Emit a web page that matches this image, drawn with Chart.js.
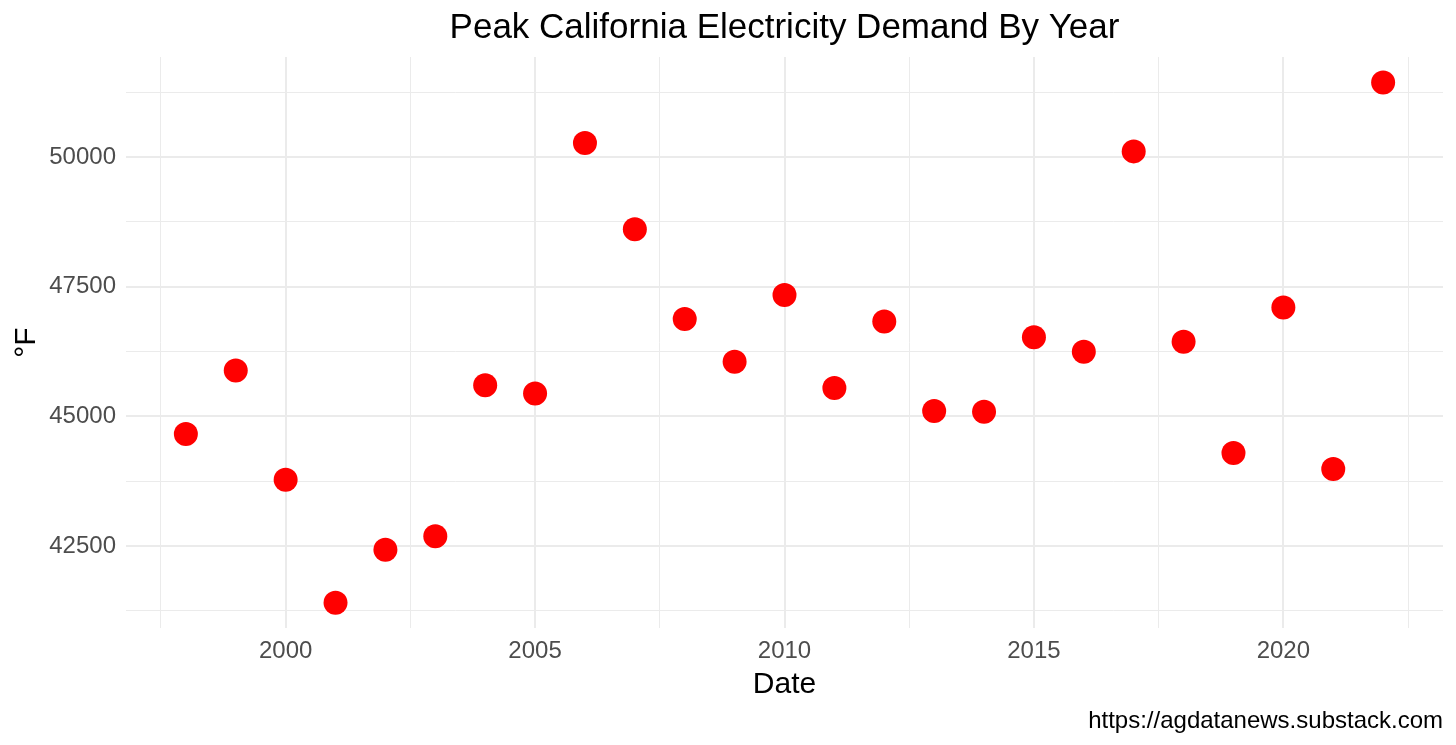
<!DOCTYPE html>
<html>
<head>
<meta charset="utf-8">
<script src="https://cdn.jsdelivr.net/npm/chart.js@4.4.1/dist/chart.umd.min.js"></script>
<style>
  html, body { margin: 0; padding: 0; background: #ffffff; }
  #wrap { width: 1456px; height: 745px; position: relative; }
</style>
</head>
<body>
<div id="wrap"><canvas id="c"></canvas></div>
<script>
// ---- Data ----
const years = [1998, 1999, 2000, 2001, 2002, 2003, 2004, 2005, 2006, 2007, 2008, 2009, 2010,
               2011, 2012, 2013, 2014, 2015, 2016, 2017, 2018, 2019, 2020, 2021, 2022];
const demand = [44660, 45883, 43776, 41404, 42428, 42688, 45599, 45439, 50271, 48608, 46876, 46052, 47340,
                45549, 46830, 45104, 45091, 46527, 46245, 50110, 46438, 44292, 47100, 43983, 51438];

// ---- Ticks ----
const xTicks = [1997.5, 2000, 2002.5, 2005, 2007.5, 2010, 2012.5, 2015, 2017.5, 2020, 2022.5];
const xLabels = [2000, 2005, 2010, 2015, 2020];
const yTicks = [41250, 42500, 43750, 45000, 46250, 47500, 48750, 50000, 51250];
const yLabels = [42500, 45000, 47500, 50000];

const titleText = 'Peak California Electricity Demand By Year';
const xTitle = 'Date';
const yTitle = '°F';
const captionText = 'https://agdatanews.substack.com';

const points = years.map((y, i) => ({ x: y, y: demand[i] }));

const FONT = '"Liberation Sans", Arial, sans-serif';
const GRID = '#ebebeb';

new Chart(document.getElementById('c'), {
  type: 'scatter',
  data: {
    datasets: [{
      data: points,
      pointRadius: 12,
      pointHoverRadius: 12,
      pointBackgroundColor: '#ff0000',
      pointBorderWidth: 0,
      pointBorderColor: '#ff0000'
    }]
  },
  options: {
    responsive: true,
    maintainAspectRatio: false,
    animation: false,
    events: [],
    layout: { padding: { left: 0, right: 13, top: 0, bottom: 0 } },
    plugins: {
      legend: { display: false },
      tooltip: { enabled: false },
      title: {
        display: true,
        text: titleText,
        fullSize: false,
        color: '#000000',
        font: { family: FONT, size: 35, weight: 'normal' },
        padding: { top: 7, bottom: 8 }
      },
      subtitle: {
        display: true,
        text: captionText,
        position: 'bottom',
        align: 'end',
        fullSize: false,
        color: '#000000',
        font: { family: FONT, size: 24, weight: 'normal' },
        padding: { top: 0, bottom: 9 }
      }
    },
    scales: {
      x: {
        type: 'linear',
        min: 1996.8,
        max: 2023.2,
        afterBuildTicks: s => { s.ticks = xTicks.map(v => ({ value: v })); },
        afterFit: s => { s.height = 79; },
        ticks: {
          autoSkip: false,
          maxRotation: 0,
          padding: 9,
          color: '#4d4d4d',
          font: { family: FONT, size: 24 },
          callback: v => xLabels.includes(v) ? String(v) : ''
        },
        grid: {
          drawTicks: false,
          color: GRID,
          lineWidth: ctx => (ctx.tick && xLabels.includes(ctx.tick.value)) ? 2 : 1
        },
        border: { display: false },
        title: {
          display: true,
          text: xTitle,
          color: '#000000',
          font: { family: FONT, size: 30 },
          padding: { top: 0, bottom: 4 }
        }
      },
      y: {
        type: 'linear',
        min: 40915,
        max: 51930,
        afterBuildTicks: s => { s.ticks = yTicks.map(v => ({ value: v })); },
        afterFit: s => { s.width = 126; },
        ticks: {
          autoSkip: false,
          padding: 10,
          color: '#4d4d4d',
          font: { family: FONT, size: 24 },
          callback: v => yLabels.includes(v) ? String(v) : ''
        },
        grid: {
          drawTicks: false,
          color: GRID,
          lineWidth: ctx => (ctx.tick && yLabels.includes(ctx.tick.value)) ? 2 : 1
        },
        border: { display: false },
        title: {
          display: true,
          text: yTitle,
          color: '#000000',
          font: { family: FONT, size: 30 },
          padding: { top: 9, bottom: 0 }
        }
      }
    }
  }
});
</script>
</body>
</html>
